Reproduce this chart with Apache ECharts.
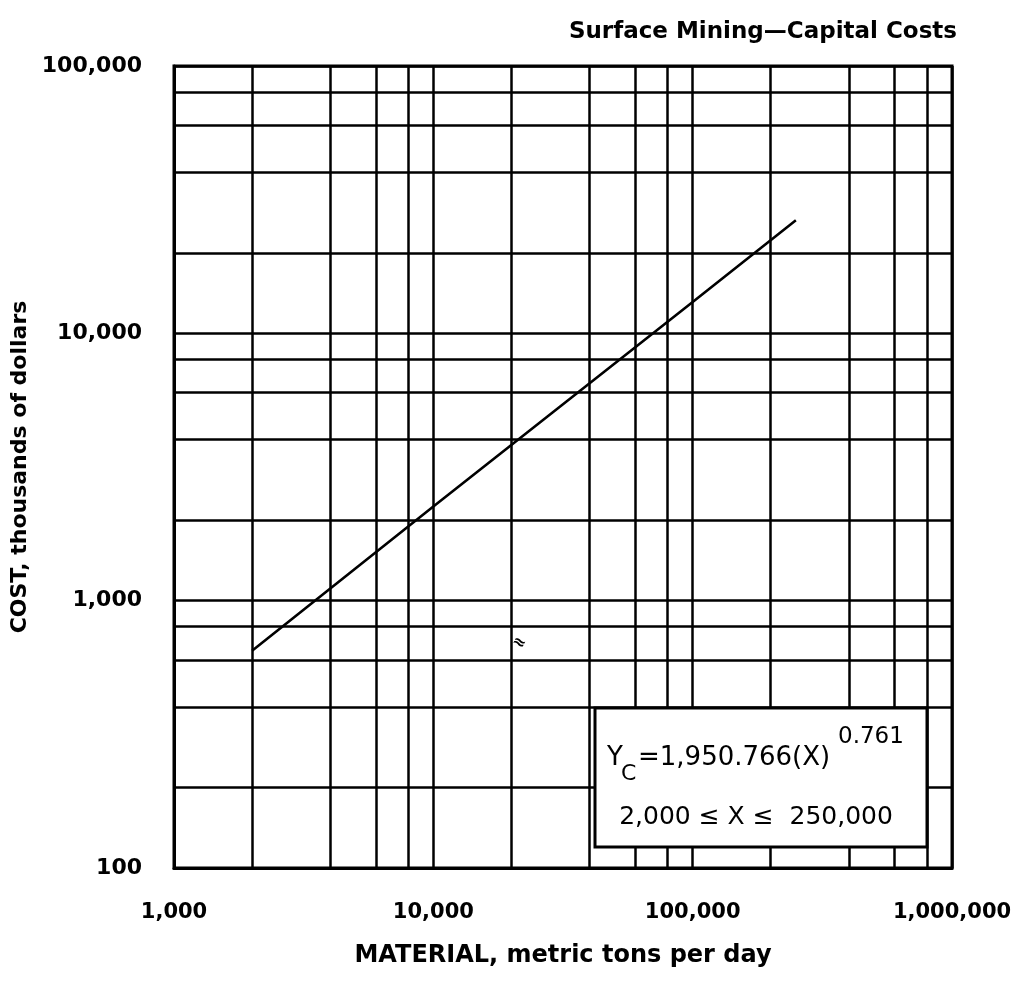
<!DOCTYPE html>
<html>
<head>
<meta charset="utf-8">
<script src="https://cdn.jsdelivr.net/npm/echarts@6/dist/echarts.min.js"></script>
<style>
  html, body { margin: 0; padding: 0; background: #fff; }
  #chart { width: 1014px; height: 983px; }
</style>
</head>
<body>
<div id="chart"></div>
<script>
// values
var xTicks = [1000, 10000, 100000, 1000000];
var yTicks = [100, 1000, 10000, 100000];
var minorSteps = [2, 4, 6, 8];
var material = [2000, 10000, 100000, 250000];
var cost = [650, 2250, 13100, 26500];

var lineData = material.map(function (m, i) { return [m, cost[i]]; });

// grid lines at 2,4,6,8 of each decade
var gridLines = [];
xTicks.slice(0, -1).forEach(function (d) {
    minorSteps.forEach(function (s) { gridLines.push({ xAxis: d * s }); });
});
yTicks.slice(0, -1).forEach(function (d) {
    minorSteps.forEach(function (s) { gridLines.push({ yAxis: d * s }); });
});

var fmt = function (v) { return Math.round(v).toLocaleString('en-US'); };
var font = 'DejaVu Sans';

var option = {
    backgroundColor: '#fff',
    animation: false,
    title: {
        text: 'Surface Mining\u2014Capital Costs',
        right: 52,
        top: 16,
        textStyle: { fontFamily: font, fontWeight: 'bold', fontSize: 23, color: '#000' }
    },
    grid: {
        left: 174, right: 62, top: 66, bottom: 115,
        containLabel: false, outerBoundsMode: 'none',
        show: true, borderColor: '#000', borderWidth: 3
    },
    xAxis: {
        type: 'log', logBase: 10, min: 1000, max: 1000000,
        name: 'MATERIAL, metric tons per day',
        nameLocation: 'middle', nameGap: 76,
        nameTextStyle: { fontFamily: font, fontWeight: 'bold', fontSize: 24, color: '#000' },
        axisLine: { lineStyle: { color: '#000', width: 3 } },
        axisTick: { show: false },
        axisLabel: { margin: 34, formatter: fmt, fontFamily: font, fontWeight: 'bold', fontSize: 21, color: '#000' },
        splitLine: { show: true, lineStyle: { color: '#000', width: 2.5 } }
    },
    yAxis: {
        type: 'log', logBase: 10, min: 100, max: 100000,
        name: 'COST, thousands of dollars',
        nameLocation: 'middle', nameGap: 138,
        nameTextStyle: { fontFamily: font, fontWeight: 'bold', fontSize: 22, color: '#000' },
        axisLine: { lineStyle: { color: '#000', width: 3 } },
        axisTick: { show: false },
        axisLabel: { margin: 32, formatter: fmt, fontFamily: font, fontWeight: 'bold', fontSize: 22, color: '#000' },
        splitLine: { show: true, lineStyle: { color: '#000', width: 2.5 } }
    },
    series: [{
        type: 'line',
        data: lineData,
        symbol: 'none',
        silent: true,
        lineStyle: { color: '#000', width: 2.6 },
        markLine: {
            silent: true,
            symbol: 'none',
            label: { show: false },
            lineStyle: { color: '#000', width: 2.5, type: 'solid' },
            emphasis: { disabled: true },
            data: gridLines
        }
    }],
    graphic: [
        {
            type: 'rect', z: 100,
            shape: { x: 595, y: 708, width: 332, height: 139 },
            style: { fill: '#fff', stroke: '#000', lineWidth: 3 }
        },
        { type: 'text', z: 101, x: 607, y: 758, style: { text: 'Y', font: '26px "DejaVu Sans"', fill: '#000', verticalAlign: 'middle' } },
        { type: 'text', z: 101, x: 621, y: 774, style: { text: 'C', font: '22px "DejaVu Sans"', fill: '#000', verticalAlign: 'middle' } },
        { type: 'text', z: 101, x: 638, y: 758, style: { text: '=1,950.766(X)', font: '26px "DejaVu Sans"', fill: '#000', verticalAlign: 'middle' } },
        { type: 'text', z: 101, x: 838, y: 737, style: { text: '0.761', font: '23px "DejaVu Sans"', fill: '#000', verticalAlign: 'middle' } },
        { type: 'text', z: 101, x: 756, y: 817, style: { text: '2,000 \u2264 X \u2264  250,000', font: '25px "DejaVu Sans"', fill: '#000', align: 'center', verticalAlign: 'middle' } },
        { type: 'text', z: 101, x: 519, y: 643, rotation: -0.5, style: { text: '\u2248', font: 'bold 16px "DejaVu Sans"', fill: '#000', align: 'center', verticalAlign: 'middle' } }
    ]
};

var chart = echarts.init(document.getElementById('chart'));
chart.setOption(option);
</script>
</body>
</html>
